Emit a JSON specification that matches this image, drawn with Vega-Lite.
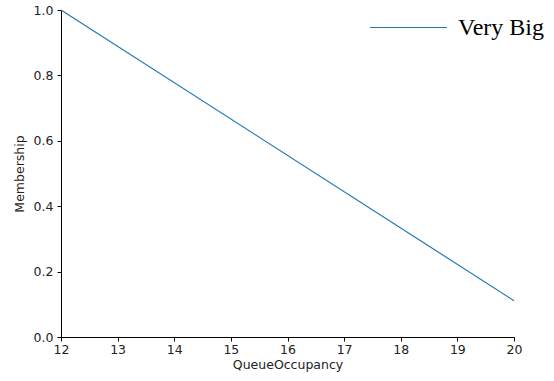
{
  "$schema": "https://vega.github.io/schema/vega-lite/v6.json",
  "width": 453,
  "height": 327,
  "autosize": "none",
  "padding": {"left": 61, "top": 10, "right": 40, "bottom": 44},
  "background": "white",
  "config": {"view": {"stroke": null}},
  "data": {"values": [
    {"x": 12, "y": 1.0, "s": "Very Big"},
    {"x": 20, "y": 0.111, "s": "Very Big"}
  ]},
  "mark": {"type": "line", "strokeWidth": 1.2},
  "encoding": {
    "x": {"field": "x", "type": "quantitative", "scale": {"domain": [12, 20], "nice": false, "zero": false},
      "axis": {"title": "QueueOccupancy", "values": [12,13,14,15,16,17,18,19,20], "format": "d", "grid": false, "labelFlush": false,
        "domainColor": "#000", "tickColor": "#000", "tickSize": 4, "labelFont": "DejaVu Sans", "labelFontSize": 12.5, "labelColor": "#222",
        "titleFont": "DejaVu Sans", "titleFontSize": 12.5, "titleFontWeight": "normal", "titleColor": "#222", "labelPadding": 2, "titlePadding": 3}},
    "y": {"field": "y", "type": "quantitative", "scale": {"domain": [0, 1], "nice": false},
      "axis": {"title": "Membership", "values": [0,0.2,0.4,0.6,0.8,1.0], "format": ".1f", "grid": false, "labelFlush": false,
        "domainColor": "#000", "tickColor": "#000", "tickSize": 4, "labelFont": "DejaVu Sans", "labelFontSize": 12.5, "labelColor": "#222",
        "titleFont": "DejaVu Sans", "titleFontSize": 12.5, "titleFontWeight": "normal", "titleColor": "#222", "labelPadding": 4, "titlePadding": 7}},
    "color": {"field": "s", "type": "nominal", "scale": {"range": ["#1f77b4"]},
      "legend": {"title": null, "orient": "none", "legendX": 308, "legendY": -22, "symbolType": "stroke", "symbolSize": 5929,
        "symbolStrokeWidth": 1.2, "labelFont": "Liberation Serif", "labelFontSize": 24, "labelColor": "#000", "labelOffset": 10, "padding": 0}}
  }
}
